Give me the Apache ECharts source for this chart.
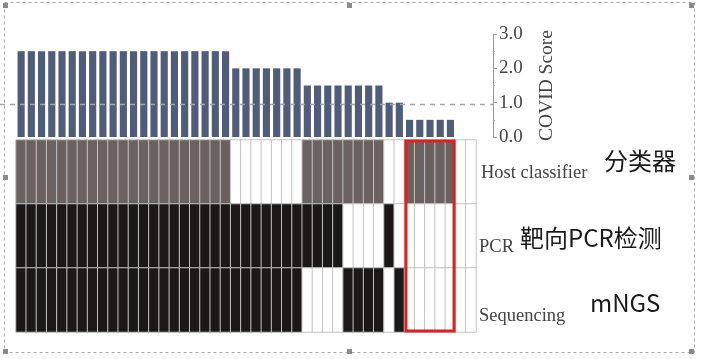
<!DOCTYPE html>
<html><head><meta charset="utf-8">
<script src="https://cdn.jsdelivr.net/npm/echarts@6/dist/echarts.min.js"></script>
<style>html,body{margin:0;padding:0;background:#fff;}#c{width:702px;height:359px;}</style>
</head><body><div id="c"></div>
<script>
// ---- data ----
const columns = ['1','2','3','4','5','6','7','8','9','10','11','12','13','14','15','16','17','18','19','20','21','22','23','24','25','26','27','28','29','30','31','32','33','34','35','36','37','38','39','40','41','42','43','44','45'];
const covidScore = [2.5,2.5,2.5,2.5,2.5,2.5,2.5,2.5,2.5,2.5,2.5,2.5,2.5,2.5,2.5,2.5,2.5,2.5,2.5,2.5,2.5,
  2.0,2.0,2.0,2.0,2.0,2.0,2.0,
  1.5,1.5,1.5,1.5,1.5,1.5,1.5,1.5,
  1.0,1.0,
  0.5,0.5,0.5,0.5,0.5,
  null,null];
const scoreThreshold = 0.95;
const rowNames = ['Host classifier','PCR','Sequencing'];
const rowNamesCN = ['分类器','靶向PCR检测','mNGS'];
const hostRow = [1,1,1,1,1,1,1,1,1,1,1,1,1,1,1,1,1,1,1,1,1, 0,0,0,0,0,0,0, 1,1,1,1,1,1,1,1, 0,0, 1,1,1,1,1, 0,0];
const pcrRow  = [1,1,1,1,1,1,1,1,1,1,1,1,1,1,1,1,1,1,1,1,1, 1,1,1,1,1,1,1, 1,1,1,1,0,0,0,0, 1,0, 0,0,0,0,0, 0,0];
const seqRow  = [1,1,1,1,1,1,1,1,1,1,1,1,1,1,1,1,1,1,1,1,1, 1,1,1,1,1,1,1, 0,0,0,0,1,1,1,1, 0,1, 0,0,0,0,0, 0,0];
const highlightCols = [38, 42]; // zero-based first/last column of red box
const yTicks = {min:0, max:3, interval:1};

// ---- build ----
const rows = [hostRow, pcrRow, seqRow];
const rowFill = [1, 2, 2]; // 1 = gray, 2 = black
const heatData = [];
rows.forEach((row, r) => {
  row.forEach((v, c) => heatData.push([c, 2 - r, v ? rowFill[r] : 0]));
});

const chart = echarts.init(document.getElementById('c'));
const serif = 'Liberation Serif';
chart.setOption({
  animation: false,
  backgroundColor: '#fff',
  grid: [
    {left: 16, right: 226, top: 34, height: 103},
    {left: 16, right: 226, top: 140, height: 192}
  ],
  xAxis: [
    {type:'category', gridIndex:0, data: columns, show:false},
    {type:'category', gridIndex:1, data: columns, show:false}
  ],
  yAxis: [
    {type:'value', gridIndex:0, position:'right', offset:17, min:yTicks.min, max:yTicks.max, interval:yTicks.interval,
     name:'COVID Score', nameLocation:'middle', nameRotate:90, nameGap:44,
     nameTextStyle:{fontFamily:serif, fontSize:19.5, color:'#444'},
     axisLine:{show:true, lineStyle:{color:'#999', width:1}},
     axisTick:{show:true, inside:false, length:4, lineStyle:{color:'#999'}},
     minorTick:{show:true, splitNumber:2, length:2, lineStyle:{color:'#aaa'}},
     splitLine:{show:false},
     axisLabel:{fontFamily:serif, fontSize:19, color:'#444', margin:6, formatter: v => v.toFixed(1)}},
    {type:'category', gridIndex:1, data: rowNames.slice().reverse(), show:false}
  ],
  visualMap: {type:'piecewise', show:false, seriesIndex:1, dimension:2,
    pieces:[{value:0, color:'#ffffff'},{value:1, color:'#6b615e'},{value:2, color:'#1c1818'}]},
  series: [
    {type:'bar', xAxisIndex:0, yAxisIndex:0, data: covidScore, barWidth:'70%',
     itemStyle:{color:'#4f5c7a'}},
    {type:'heatmap', xAxisIndex:1, yAxisIndex:1, data: heatData,
     itemStyle:{borderColor:'#c2c2c2', borderWidth:1}}
  ]
});

// ---- overlays positioned through the axes ----
const ty = chart.convertToPixel({yAxisIndex:0}, scoreThreshold);
const x0 = chart.convertToPixel({xAxisIndex:1}, columns[0]);
const x1 = chart.convertToPixel({xAxisIndex:1}, columns[1]);
const band = x1 - x0;
const boxL = chart.convertToPixel({xAxisIndex:1}, columns[highlightCols[0]]) - band/2;
const boxR = chart.convertToPixel({xAxisIndex:1}, columns[highlightCols[1]]) + band/2;
const hTop = chart.convertToPixel({yAxisIndex:1}, rowNames[0]);
const hBot = chart.convertToPixel({yAxisIndex:1}, rowNames[2]);
const rowH = (hBot - hTop) / 2;
const boxT = hTop - rowH/2, boxB = hBot + rowH/2;

const handles = [[3,3],[347,3],[689,3],[3,175],[689,175],[3,349],[347,349],[689,349]];
const g = [
  {type:'rect', shape:{x:4.5, y:2.5, width:690, height:350}, z:1,
   style:{fill:null, stroke:'#a9a9a9', lineWidth:1, lineDash:[3,3]}},
  {type:'line', shape:{x1:0, y1:ty, x2:494, y2:ty}, z:50,
   style:{stroke:'#a5a5a5', lineWidth:1.5, lineDash:[5,5]}},
  {type:'rect', shape:{x:boxL+1.5, y:boxT+1, width:boxR-boxL-3, height:boxB-boxT-2}, z:60,
   style:{fill:null, stroke:'#e0201c', lineWidth:3}},
  {type:'text', x:481, y:173, z:60, style:{text:rowNames[0], fontFamily:serif, fontSize:18.5, fill:'#444', verticalAlign:'middle'}},
  {type:'text', x:479, y:247, z:60, style:{text:rowNames[1], fontFamily:serif, fontSize:18.5, fill:'#444', verticalAlign:'middle'}},
  {type:'text', x:479, y:316, z:60, style:{text:rowNames[2], fontFamily:serif, fontSize:18.5, fill:'#444', verticalAlign:'middle'}},
  {type:'text', x:604, y:161, z:60, style:{text:rowNamesCN[0], fontFamily:'Noto Sans CJK SC', fontSize:24, fill:'#1a1a1a', verticalAlign:'middle'}},
  {type:'text', x:520, y:238, z:60, style:{text:rowNamesCN[1], fontFamily:'Noto Sans CJK SC', fontSize:24, fill:'#1a1a1a', verticalAlign:'middle'}},
  {type:'text', x:590, y:303, z:60, style:{text:rowNamesCN[2], fontFamily:'Noto Sans CJK SC', fontSize:24, fill:'#1a1a1a', verticalAlign:'middle'}}
];
handles.forEach(h => g.push({type:'rect', shape:{x:h[0], y:h[1], width:5, height:5}, z:70, style:{fill:'#8a8a8a'}}));
chart.setOption({graphic: g});
</script></body></html>
